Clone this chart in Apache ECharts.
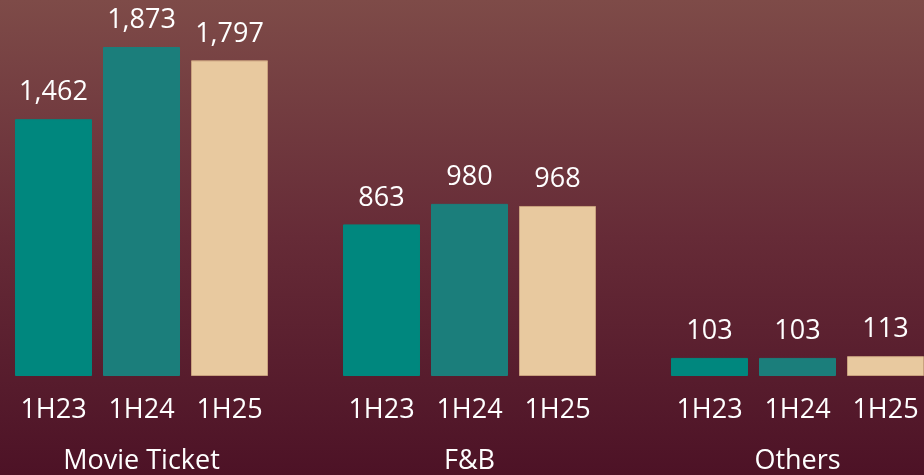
<!DOCTYPE html>
<html>
<head>
<meta charset="utf-8">
<script src="https://cdn.jsdelivr.net/npm/echarts@6/dist/echarts.min.js"></script>
<style>
  html, body { margin: 0; padding: 0; }
  #chart {
    width: 924px;
    height: 475px;
    background: linear-gradient(to bottom, #7e4b48 0%, #662b37 50%, #4d1226 100%);
  }
</style>
</head>
<body>
<div id="chart"></div>
<script>
const groups = ['Movie Ticket', 'F&B', 'Others']
const periods = ['1H23', '1H24', '1H25']
const values1H23 = [1462, 863, 103]
const values1H24 = [1873, 980, 103]
const values1H25 = [1797, 968, 113]

const colors = ['#00877e', '#1b7e7b', '#e8c99f']
const font = '"Open Sans", "Noto Sans", sans-serif'
const seriesData = [values1H23, values1H24, values1H25]

const chart = echarts.init(document.getElementById('chart'))

const valueSeries = periods.map((name, i) => ({
  name,
  type: 'bar',
  xAxisIndex: 0,
  barWidth: 77,
  barGap: '14.3%',
  data: seriesData[i],
  itemStyle: {
    color: colors[i],
    borderColor: i === 2 ? '#c9a17e' : colors[i],
    borderWidth: 1,
  },
  label: {
    show: true,
    position: 'top',
    distance: 13,
    color: '#ffffff',
    fontFamily: font,
    fontSize: 27,
    formatter: (p) => p.value.toLocaleString('en-US'),
  },
  z: 3,
}))

// invisible copies that carry the period labels under each bar
const periodSeries = periods.map((name, i) => ({
  name,
  type: 'bar',
  xAxisIndex: 1,
  barWidth: 77,
  barGap: '14.3%',
  silent: true,
  data: seriesData[i],
  itemStyle: { color: 'transparent' },
  label: {
    show: true,
    position: 'bottom',
    distance: 21,
    color: '#ffffff',
    fontFamily: font,
    fontSize: 27,
    formatter: '{a}',
  },
  z: 1,
}))

chart.setOption({
  backgroundColor: 'transparent',
  animation: false,
  grid: { left: -22.5, width: 984, top: 24.7, bottom: 99, outerBoundsMode: 'none' },
  xAxis: [
    {
      type: 'category',
      data: groups,
      axisLine: { show: false },
      axisTick: { show: false },
      axisLabel: {
        color: '#ffffff',
        fontFamily: font,
        fontSize: 27,
        margin: 72,
        interval: 0,
      },
    },
    {
      type: 'category',
      data: groups,
      show: false,
    },
  ],
  yAxis: {
    type: 'value',
    min: 0,
    max: 2000,
    show: false,
    splitLine: { show: false },
  },
  series: [...periodSeries, ...valueSeries],
})
</script>
</body>
</html>
